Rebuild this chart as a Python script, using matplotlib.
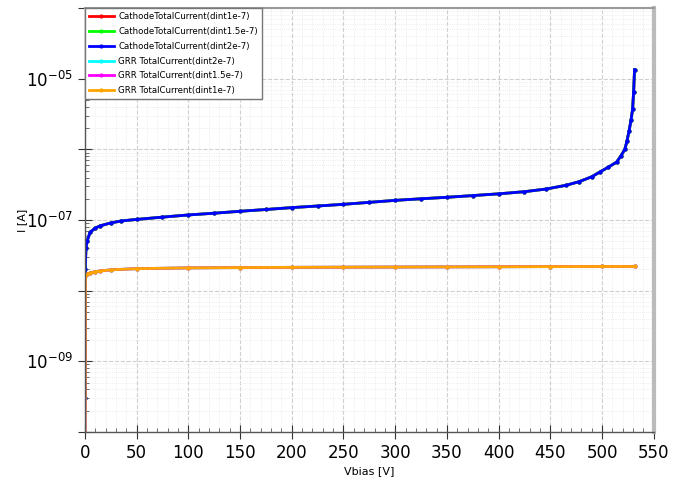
import matplotlib
matplotlib.use("Agg")
import matplotlib.pyplot as plt
from matplotlib.ticker import FixedLocator, FuncFormatter, MultipleLocator

# Cathode total current (blue curve, red/green lie underneath)
v_cathode = [0, 0.3, 1, 2, 5, 10, 15, 25, 35, 50, 75, 100, 125, 150, 175, 200,
             225, 250, 275, 300, 325, 350, 375, 400, 425, 446, 465, 478, 490,
             498, 506, 514, 518, 522, 524, 526, 528, 529.5, 530.5, 531.4]
i_cathode = [3e-10, 2e-8, 4e-8, 5e-8, 6.7e-8, 7.7e-8, 8.3e-8, 9.1e-8, 9.7e-8,
             1.02e-7, 1.1e-7, 1.18e-7, 1.25e-7, 1.33e-7, 1.41e-7, 1.5e-7,
             1.58e-7, 1.67e-7, 1.78e-7, 1.9e-7, 2.0e-7, 2.1e-7, 2.22e-7,
             2.35e-7, 2.52e-7, 2.75e-7, 3.1e-7, 3.5e-7, 4.1e-7, 4.8e-7,
             5.6e-7, 6.6e-7, 8e-7, 1.0e-6, 1.3e-6, 1.8e-6, 2.6e-6, 3.7e-6,
             6.5e-6, 1.35e-5]

# Guard ring (GRR) total current (orange curve, cyan/magenta lie underneath)
v_grr = [0, 0.5, 2, 5, 10, 15, 25, 50, 100, 150, 200, 250, 300, 350, 400,
         450, 500, 531.4]
i_grr = [1e-11, 1.6e-8, 1.7e-8, 1.78e-8, 1.86e-8, 1.9e-8, 1.97e-8, 2.05e-8,
         2.1e-8, 2.12e-8, 2.14e-8, 2.15e-8, 2.16e-8, 2.17e-8, 2.18e-8,
         2.19e-8, 2.2e-8, 2.2e-8]

series = [
    ("CathodeTotalCurrent(dint1e-7)", "#ff0000", v_cathode, i_cathode),
    ("CathodeTotalCurrent(dint1.5e-7)", "#00ff00", v_cathode, i_cathode),
    ("CathodeTotalCurrent(dint2e-7)", "#0000ff", v_cathode, i_cathode),
    ("GRR TotalCurrent(dint2e-7)", "#00ffff", v_grr, i_grr),
    ("GRR TotalCurrent(dint1.5e-7)", "#ff00ff", v_grr, i_grr),
    ("GRR TotalCurrent(dint1e-7)", "#ffa500", v_grr, i_grr),
]

fig = plt.figure(figsize=(6.74, 4.82), dpi=100)
ax = fig.add_axes([0.126, 0.104, 0.844, 0.879])

for label, color, xs, ys in series:
    ax.plot(xs, ys, color=color, lw=2, marker="o", markersize=2, label=label)

ax.set_yscale("log")
ax.set_xlim(0, 550)
ax.set_ylim(1e-10, 1e-4)

decades = [10.0 ** e for e in range(-10, -3)]
ax.yaxis.set_major_locator(FixedLocator(decades))


def fmt_y(val, pos):
    import math
    e = int(round(math.log10(val)))
    if e in (-5, -7, -9):
        return r"$10^{\mathdefault{-%02d}}$" % (-e)
    return ""


ax.yaxis.set_major_formatter(FuncFormatter(fmt_y))
ax.xaxis.set_major_locator(MultipleLocator(50))
ax.xaxis.set_minor_locator(MultipleLocator(10))

ax.tick_params(axis="both", which="major", labelsize=12, direction="inout",
               length=10, width=0.8, color="#333333")
ax.tick_params(axis="both", which="minor", direction="in", length=3,
               width=0.6, color="#555555")

ax.grid(which="major", ls="--", color="#cfcfcf", lw=0.8)
ax.grid(which="minor", ls=":", color="#e6e6e6", lw=0.6)
ax.set_axisbelow(True)

for side in ("left", "bottom"):
    ax.spines[side].set_color("#555555")
    ax.spines[side].set_linewidth(1.0)
ax.spines["top"].set_color("#999999")
ax.spines["top"].set_linewidth(1.5)
ax.spines["right"].set_color("#bbbbbb")
ax.spines["right"].set_linewidth(3)

ax.set_xlabel("Vbias [V]", fontsize=8)
ax.set_ylabel("I [A]", fontsize=8)
ax.xaxis.set_label_coords(0.5, -0.080)
ax.yaxis.set_label_coords(-0.102, 0.5)

leg = ax.legend(loc="upper left", fontsize=6.2, frameon=True, fancybox=False,
                borderaxespad=0.0, handlelength=2.9, labelspacing=0.68,
                borderpad=0.45, handletextpad=0.5)
leg.get_frame().set_edgecolor("#777777")
leg.get_frame().set_linewidth(1.0)
leg.get_frame().set_alpha(1.0)

fig.savefig("out.png", dpi=100)
